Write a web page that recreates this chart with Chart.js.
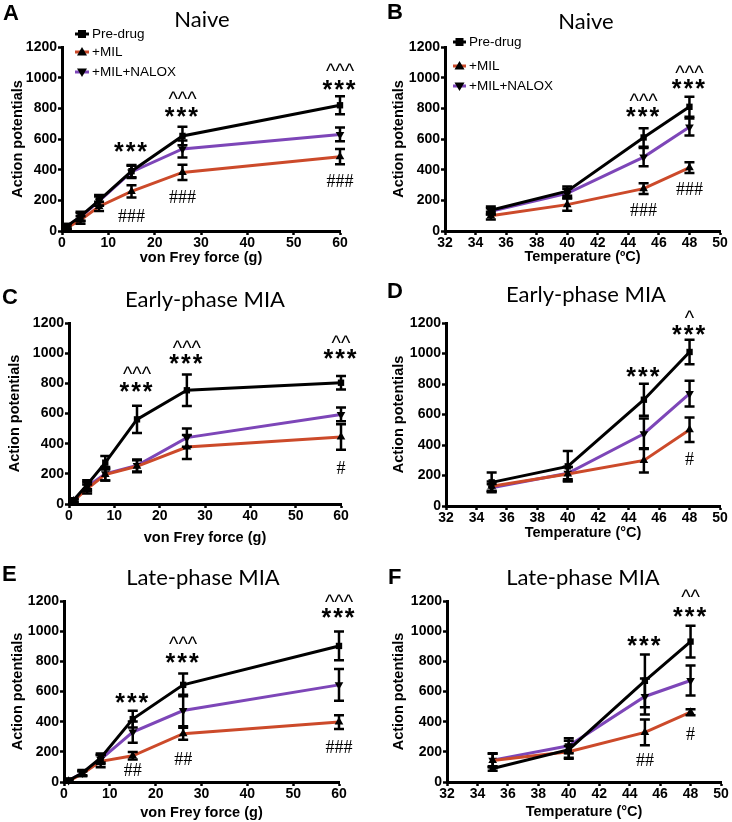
<!DOCTYPE html>
<html><head><meta charset="utf-8">
<script src="https://cdn.jsdelivr.net/npm/chart.js@4.4.0/dist/chart.umd.min.js"></script>
<style>
html,body{margin:0;padding:0;background:#fff;}
#wrap{position:relative;width:732px;height:822px;overflow:hidden;background:#fff;}
canvas{position:absolute;}
</style></head><body><div id="wrap">
<canvas id="cA" width="366" height="272" style="left:0;top:0"></canvas>
<canvas id="cB" width="366" height="272" style="left:366px;top:0"></canvas>
<canvas id="cC" width="366" height="272" style="left:0;top:275px"></canvas>
<canvas id="cD" width="366" height="272" style="left:366px;top:275px"></canvas>
<canvas id="cE" width="366" height="272" style="left:0;top:550px"></canvas>
<canvas id="cF" width="366" height="272" style="left:366px;top:550px"></canvas>
</div>
<script>
// ---------- data ----------
const forceX = [1, 4, 8, 15, 26, 60];
const tempX = [35, 40, 45, 48];
const seriesNames = ['Pre-drug', '+MIL', '+MIL+NALOX'];
const yTicks = [0, 200, 400, 600, 800, 1000, 1200];
const forceTicks = [0, 10, 20, 30, 40, 50, 60];
const tempTicks = [32, 34, 36, 38, 40, 42, 44, 46, 48, 50];

// Panel A - Naive, von Frey
const A_pre = [30, 95, 200, 390, 620, 820];
const A_preErr = [15, 30, 35, 40, 60, 58];
const A_mil = [20, 72, 160, 258, 382, 485];
const A_milErr = [10, 25, 30, 40, 50, 50];
const A_nal = [30, 92, 195, 385, 535, 630];
const A_nalErr = [15, 25, 30, 40, 55, 45];
// Panel B - Naive, temperature
const B_pre = [135, 260, 610, 810];
const B_preErr = [25, 30, 60, 65];
const B_mil = [100, 172, 276, 413];
const B_milErr = [25, 40, 35, 35];
const B_nal = [128, 245, 482, 678];
const B_nalErr = [20, 30, 60, 55];
// Panel C - Early-phase MIA, von Frey
const C_pre = [25, 128, 274, 561, 754, 804];
const C_preErr = [10, 30, 45, 90, 105, 45];
const C_mil = [20, 100, 195, 250, 378, 444];
const C_milErr = [10, 30, 40, 40, 80, 85];
const C_nal = [25, 115, 200, 255, 440, 594];
const C_nalErr = [10, 30, 45, 40, 60, 45];
// Panel D - Early-phase MIA, temperature
const D_pre = [155, 260, 697, 1010];
const D_preErr = [65, 100, 105, 80];
const D_mil = [130, 210, 299, 500];
const D_milErr = [30, 45, 80, 80];
const D_nal = [120, 215, 474, 737];
const D_nalErr = [25, 40, 100, 85];
// Panel E - Late-phase MIA, von Frey
const E_pre = [10, 60, 159, 417, 644, 902];
const E_preErr = [10, 20, 30, 55, 75, 95];
const E_mil = [5, 55, 137, 174, 320, 397];
const E_milErr = [5, 15, 40, 25, 40, 45];
const E_nal = [10, 60, 150, 331, 474, 644];
const E_nalErr = [10, 15, 30, 70, 105, 105];
// Panel F - Late-phase MIA, temperature
const F_pre = [90, 214, 671, 931];
const F_preErr = [15, 60, 175, 105];
const F_mil = [143, 201, 329, 463];
const F_milErr = [45, 40, 85, 20];
const F_nal = [145, 240, 567, 673];
const F_nalErr = [45, 50, 120, 100];

// significance labels: [text, x value, y value]
const A_notes = [['***',15,549],['^^^',26,885],['***',26,777],['^^^',60,1070],['***',60,950],['###',15,104],['###',26,223],['###',60,332]];
const B_notes = [['^^^',45,874],['***',45,776],['^^^',48,1059],['***',48,961],['###',45,139],['###',48,280]];
const C_notes = [['^^^',15,890],['***',15,776],['^^^',26,1063],['***',26,963],['^^',60,1096],['***',60,992],['#',60,239]];
const D_notes = [['***',45,879],['^',48,1261],['***',48,1152],['#',48,310]];
const E_notes = [['***',15,556],['^^^',26,942],['***',26,821],['^^^',60,1218],['***',60,1118],['##',15,82],['##',26,154],['###',60,236]];
const F_notes = [['***',45,938],['^^',48,1251],['***',48,1129],['##',45,148],['#',48,324]];

// ---------- styling ----------
const COLORS = ['#000000', '#cc4a2a', '#7d46b8'];
const SANS = "'Liberation Sans', Arial, sans-serif";
const W = 366, H = 272;

function pts(xs, ys) { return xs.map((x, i) => ({x: x, y: ys[i]})); }

const errorBars = {
  id: 'errorBars',
  afterDatasetsDraw(chart) {
    const ctx = chart.ctx, ys = chart.scales.y;
    ctx.save();
    ctx.strokeStyle = '#000';
    ctx.lineWidth = 2.5;
    chart.data.datasets.forEach((ds, i) => {
      const meta = chart.getDatasetMeta(i);
      meta.data.forEach((p, j) => {
        const v = ds.data[j].y, e = ds.errors[j];
        const yt = ys.getPixelForValue(v + e), yb = ys.getPixelForValue(v - e);
        ctx.beginPath();
        ctx.moveTo(p.x, yt); ctx.lineTo(p.x, yb);
        ctx.moveTo(p.x - 5, yt); ctx.lineTo(p.x + 5, yt);
        ctx.moveTo(p.x - 5, yb); ctx.lineTo(p.x + 5, yb);
        ctx.stroke();
      });
    });
    ctx.restore();
  }
};

function drawMarker(ctx, style, x, y) {
  ctx.fillStyle = '#000';
  ctx.beginPath();
  if (style === 0) { ctx.rect(x - 4, y - 4, 8, 8); }
  else if (style === 1) { ctx.moveTo(x, y - 5); ctx.lineTo(x + 5, y + 3.5); ctx.lineTo(x - 5, y + 3.5); ctx.closePath(); }
  else { ctx.moveTo(x, y + 5); ctx.lineTo(x + 5, y - 3.5); ctx.lineTo(x - 5, y - 3.5); ctx.closePath(); }
  ctx.fill();
}

const panelText = {
  id: 'panelText',
  afterDraw(chart, args, o) {
    const ctx = chart.ctx, xs = chart.scales.x, ys = chart.scales.y;
    ctx.save();
    ctx.fillStyle = '#000';
    // panel letter
    ctx.font = 'bold 22px ' + SANS;
    ctx.textAlign = 'left'; ctx.textBaseline = 'middle';
    ctx.fillText(o.letter, o.letterX, o.letterY);
    // title
    ctx.font = "22px Lato, 'Open Sans', sans-serif";
    ctx.textAlign = 'center';
    ctx.fillText(o.title, o.titleX, o.titleY);
    // significance notes
    ctx.textBaseline = 'alphabetic';
    o.notes.forEach(n => {
      const t = n[0];
      if (t[0] === '*') { ctx.font = 'bold 25px ' + SANS; ctx.letterSpacing = '2px'; }
      else if (t[0] === '^') { ctx.font = '20px ' + SANS; ctx.letterSpacing = '0px'; }
      else { ctx.font = "18px 'Liberation Serif', 'Times New Roman', serif"; ctx.letterSpacing = '0px'; }
      const m = ctx.measureText(t);
      const cx = xs.getPixelForValue(n[1]);
      const cy = ys.getPixelForValue(n[2]);
      const base = cy + (m.actualBoundingBoxAscent - m.actualBoundingBoxDescent) / 2;
      ctx.fillText(t, cx, base);
    });
    ctx.letterSpacing = '0px';
    // legend
    if (o.legend) {
      const L = o.legend;
      ctx.font = '13.5px ' + SANS;
      ctx.textAlign = 'left'; ctx.textBaseline = 'middle';
      seriesNames.forEach((name, i) => {
        const y = L.rows[i];
        ctx.strokeStyle = COLORS[i]; ctx.lineWidth = 3;
        ctx.beginPath(); ctx.moveTo(L.x0, y); ctx.lineTo(L.x1, y); ctx.stroke();
        drawMarker(ctx, i, (L.x0 + L.x1) / 2, y);
        ctx.fillStyle = '#000';
        ctx.fillText(name, L.tx, y);
      });
    }
    ctx.restore();
  }
};

function makePanel(id, cfg) {
  const styles = ['rect', 'triangle', 'triangle'];
  const rots = [0, 0, 180];
  const datasets = cfg.series.map((s, i) => ({
    label: seriesNames[i],
    data: pts(cfg.xs, s[0]),
    errors: s[1],
    borderColor: COLORS[i],
    borderWidth: 3,
    pointStyle: styles[i],
    rotation: rots[i],
    pointRadius: i === 0 ? 4.5 : 5,
    pointBackgroundColor: '#000',
    pointBorderColor: '#000',
    pointBorderWidth: 0,
    tension: 0,
    clip: false
  }));
  const tickFont = {family: SANS, size: 14, weight: 'bold'};
  const titleFont = {family: SANS, size: 14.5, weight: 'bold'};
  const gridOpts = {display: true, drawOnChartArea: false, drawTicks: true, tickLength: 4, tickWidth: 2.5, tickColor: '#000'};
  const a = cfg.area;
  const plain = v => String(v);
  new Chart(document.getElementById(id), {
    type: 'line',
    data: {datasets: datasets},
    options: {
      responsive: false, animation: false, devicePixelRatio: 1,
      layout: {padding: {left: 0, top: a.top, right: W - a.right, bottom: 0}},
      plugins: {legend: {display: false}, tooltip: {enabled: false}, panelText: cfg.text},
      scales: {
        x: {
          type: 'linear', min: cfg.xTicks[0], max: cfg.xTicks[cfg.xTicks.length - 1],
          afterBuildTicks: s => { s.ticks = cfg.xTicks.map(v => ({value: v})); },
          ticks: {font: tickFont, color: '#000', padding: 0, maxRotation: 0, autoSkip: false, callback: plain},
          grid: gridOpts,
          border: {display: true, color: '#000', width: 3},
          title: {display: true, text: cfg.xTitle, font: titleFont, color: '#000', padding: {top: 0, bottom: cfg.xTitlePad}},
          afterFit: s => { s.height = H - a.bottom; }
        },
        y: {
          type: 'linear', min: 0, max: 1200,
          afterBuildTicks: s => { s.ticks = yTicks.map(v => ({value: v})); },
          ticks: {font: tickFont, color: '#000', padding: 1, callback: plain},
          grid: gridOpts,
          border: {display: true, color: '#000', width: 3},
          title: {display: true, text: 'Action potentials', font: titleFont, color: '#000', padding: {top: cfg.yTitlePad, bottom: 0}},
          afterFit: s => { s.width = a.left; }
        }
      }
    },
    plugins: [errorBars, panelText]
  });
}

const legA = {x0: 75, x1: 89, tx: 92, rows: [34, 52, 72]};
const legB = {x0: 87, x1: 100, tx: 103, rows: [42, 66, 86]};

makePanel('cA', {xs: forceX, xTicks: forceTicks, xTitle: 'von Frey force (g)', xTitlePad: 5.6, yTitlePad: 9,
  area: {left: 62, top: 47, right: 340, bottom: 231},
  series: [[A_pre, A_preErr], [A_mil, A_milErr], [A_nal, A_nalErr]],
  text: {letter: 'A', letterX: 3, letterY: 14, title: 'Naive', titleX: 202, titleY: 20, notes: A_notes, legend: legA}});
makePanel('cB', {xs: tempX, xTicks: tempTicks, xTitle: 'Temperature (\u00baC)', xTitlePad: 6.6, yTitlePad: 24.6,
  area: {left: 79, top: 47, right: 354, bottom: 231},
  series: [[B_pre, B_preErr], [B_mil, B_milErr], [B_nal, B_nalErr]],
  text: {letter: 'B', letterX: 21, letterY: 13, title: 'Naive', titleX: 220, titleY: 22, notes: B_notes, legend: legB}});
makePanel('cC', {xs: forceX, xTicks: forceTicks, xTitle: 'von Frey force (g)', xTitlePad: 0.6, yTitlePad: 6.6,
  area: {left: 69, top: 48, right: 341, bottom: 229},
  series: [[C_pre, C_preErr], [C_mil, C_milErr], [C_nal, C_nalErr]],
  text: {letter: 'C', letterX: 2, letterY: 23, title: 'Early-phase MIA', titleX: 205, titleY: 25, notes: C_notes}});
makePanel('cD', {xs: tempX, xTicks: tempTicks, xTitle: 'Temperature (\u00b0C)', xTitlePad: 5.6, yTitlePad: 24.6,
  area: {left: 80, top: 48, right: 354, bottom: 231},
  series: [[D_pre, D_preErr], [D_mil, D_milErr], [D_nal, D_nalErr]],
  text: {letter: 'D', letterX: 21, letterY: 17, title: 'Early-phase MIA', titleX: 220, titleY: 20, notes: D_notes}});
makePanel('cE', {xs: forceX, xTicks: forceTicks, xTitle: 'von Frey force (g)', xTitlePad: 0.6, yTitlePad: 9.6,
  area: {left: 64, top: 51, right: 339, bottom: 232},
  series: [[E_pre, E_preErr], [E_mil, E_milErr], [E_nal, E_nalErr]],
  text: {letter: 'E', letterX: 2, letterY: 25, title: 'Late-phase MIA', titleX: 203, titleY: 28, notes: E_notes}});
makePanel('cF', {xs: tempX, xTicks: tempTicks, xTitle: 'Temperature (\u00b0C)', xTitlePad: 1.6, yTitlePad: 24.6,
  area: {left: 81, top: 51, right: 355, bottom: 232},
  series: [[F_pre, F_preErr], [F_mil, F_milErr], [F_nal, F_nalErr]],
  text: {letter: 'F', letterX: 22, letterY: 28, title: 'Late-phase MIA', titleX: 217, titleY: 28, notes: F_notes}});
</script>
</body></html>
